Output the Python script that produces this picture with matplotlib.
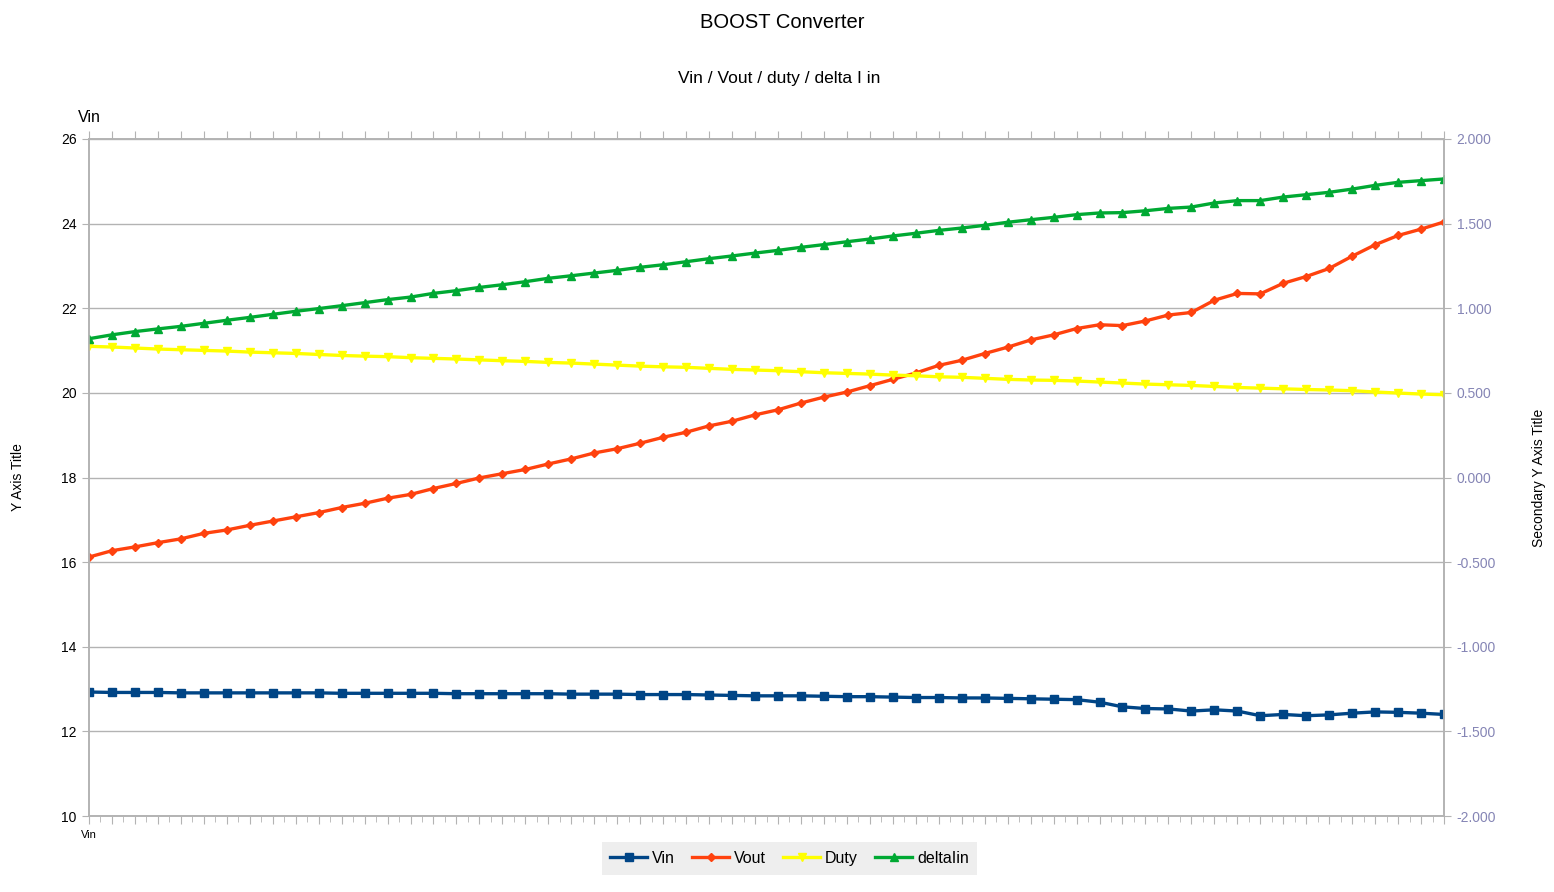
import matplotlib
matplotlib.use("Agg")
import matplotlib.pyplot as plt
import numpy as np

plt.rcParams['font.family'] = ['Liberation Sans', 'DejaVu Sans']

# values (60 samples)
vin = [12.93, 12.92, 12.92, 12.92, 12.91, 12.91, 12.91, 12.91, 12.91, 12.91,
       12.91, 12.90, 12.90, 12.90, 12.90, 12.90, 12.89, 12.89, 12.89, 12.89,
       12.89, 12.88, 12.88, 12.88, 12.87, 12.87, 12.87, 12.86, 12.85, 12.84,
       12.84, 12.84, 12.83, 12.82, 12.82, 12.81, 12.80, 12.80, 12.79, 12.79,
       12.78, 12.77, 12.76, 12.75, 12.69, 12.58, 12.54, 12.53, 12.48, 12.51,
       12.48, 12.37, 12.40, 12.37, 12.39, 12.43, 12.46, 12.45, 12.43, 12.40]

vout = [16.12, 16.27, 16.36, 16.46, 16.55, 16.68, 16.76, 16.87, 16.97, 17.07,
        17.17, 17.29, 17.39, 17.51, 17.60, 17.74, 17.86, 17.99, 18.09, 18.19,
        18.32, 18.44, 18.58, 18.68, 18.81, 18.95, 19.07, 19.22, 19.33, 19.48,
        19.60, 19.76, 19.90, 20.02, 20.17, 20.32, 20.47, 20.65, 20.77, 20.93,
        21.08, 21.25, 21.37, 21.52, 21.61, 21.59, 21.70, 21.84, 21.90, 22.19,
        22.35, 22.34, 22.59, 22.75, 22.94, 23.23, 23.50, 23.72, 23.87, 24.04]

duty = [0.775, 0.771, 0.765, 0.759, 0.755, 0.751, 0.747, 0.741, 0.737, 0.733,
        0.727, 0.721, 0.717, 0.714, 0.708, 0.704, 0.700, 0.695, 0.690, 0.686,
        0.680, 0.676, 0.670, 0.664, 0.658, 0.654, 0.651, 0.645, 0.639, 0.635,
        0.631, 0.625, 0.619, 0.615, 0.611, 0.605, 0.601, 0.595, 0.592, 0.586,
        0.580, 0.576, 0.574, 0.570, 0.564, 0.558, 0.552, 0.548, 0.544, 0.538,
        0.532, 0.528, 0.524, 0.520, 0.517, 0.513, 0.505, 0.499, 0.493, 0.489]

delta_iin = [0.820, 0.843, 0.862, 0.878, 0.893, 0.911, 0.929, 0.946, 0.964, 0.982,
             0.998, 1.015, 1.033, 1.051, 1.066, 1.088, 1.104, 1.123, 1.139, 1.157,
             1.177, 1.192, 1.208, 1.224, 1.242, 1.257, 1.275, 1.293, 1.309, 1.326,
             1.342, 1.360, 1.376, 1.393, 1.409, 1.427, 1.443, 1.460, 1.474, 1.490,
             1.508, 1.523, 1.537, 1.553, 1.563, 1.565, 1.576, 1.590, 1.598, 1.622,
             1.636, 1.636, 1.657, 1.671, 1.685, 1.704, 1.726, 1.744, 1.754, 1.764]

x = np.arange(len(vin))
grid_col = '#b3b3b3'
right_col = '#8585b5'

fig = plt.figure(figsize=(15.54, 8.92), dpi=100)
ax = fig.add_axes([89/1554, 1 - 816/892, (1444 - 89)/1554, (816 - 139)/892])
ax2 = ax.twinx()

l1, = ax.plot(x, vin, '-s', color='#004586', lw=2.4, ms=6, label='Vin')
l2, = ax.plot(x, vout, '-D', color='#ff420e', lw=2.4, ms=4.5, label='Vout')
l3, = ax2.plot(x, duty, '-v', color='#ffff00', lw=2.4, ms=6, label='Duty')
l4, = ax2.plot(x, delta_iin, '-^', color='#00a933', lw=2.4, ms=6, label='deltaIin')

ax.set_xlim(0, len(vin) - 1)
ax.set_ylim(10, 26)
ax.set_yticks(np.arange(10, 27, 2))
ax2.set_ylim(-2, 2)
ax2.set_yticks(np.arange(-2, 2.01, 0.5))
ax2.set_yticklabels(['%.3f' % v for v in np.arange(-2, 2.01, 0.5)])

ax.set_xticks(x)
ax.set_xticks(x[:-1] + 0.5, minor=True)
ax.set_xticklabels([])
ax.tick_params(axis='x', which='major', direction='out', length=6, color=grid_col,
               top=True, bottom=True)
ax.tick_params(axis='x', which='minor', direction='out', length=4, color=grid_col,
               top=False, bottom=True)
ax.tick_params(axis='y', direction='out', length=5, color=grid_col, labelsize=10,
               labelcolor='black', pad=4)
ax2.tick_params(axis='y', direction='out', length=5, color=grid_col, labelsize=10,
                labelcolor=right_col, pad=4)

ax.yaxis.grid(True, color=grid_col, lw=1)
ax.set_axisbelow(True)
for a in (ax, ax2):
    for s in a.spines.values():
        s.set_color(grid_col)
        s.set_linewidth(1.2)

ax.set_ylabel('Y Axis Title', fontsize=10, labelpad=26)
ax2.set_ylabel('Secondary Y Axis Title', fontsize=10, labelpad=26)

fig.text(782/1554, 1 - 23/892, 'BOOST Converter', ha='center', va='center', fontsize=14.5)
fig.text(779/1554, 1 - 78/892, 'Vin / Vout / duty / delta I in', ha='center',
         va='center', fontsize=12.5)
fig.text(89/1554, 1 - 118/892, 'Vin', ha='center', va='center', fontsize=11.5)
fig.text(89/1554, 1 - 835/892, 'Vin', ha='center', va='center', fontsize=8)

fig.legend([l1, l2, l3, l4], ['Vin', 'Vout', 'Duty', 'deltaIin'],
           loc='center', bbox_to_anchor=(789.5/1554, 1 - 858.5/892), ncol=4,
           frameon=True, facecolor='#eeeeee', edgecolor='none', fancybox=False,
           fontsize=11.5, handlelength=2.3, handletextpad=0.3, columnspacing=1.1,
           borderpad=0.55, framealpha=1)

fig.savefig('out.png', dpi=100)
